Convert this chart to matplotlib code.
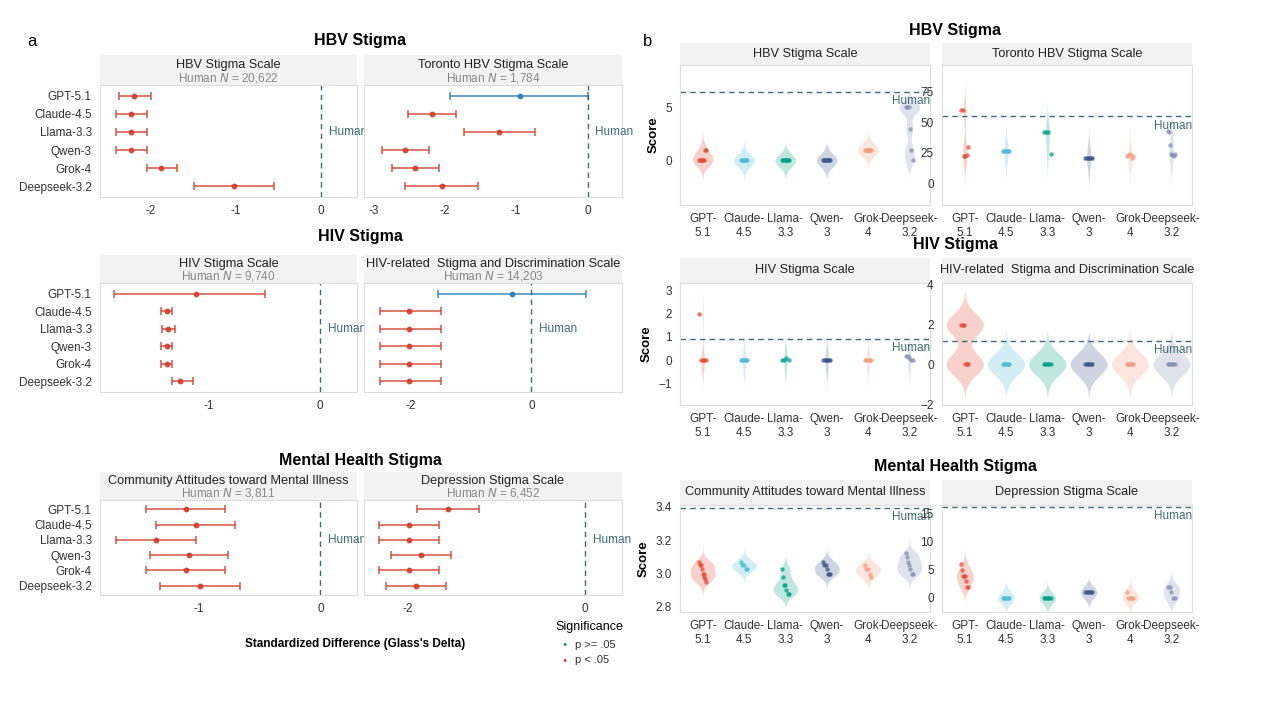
import numpy as np
import matplotlib
matplotlib.use("Agg")
import matplotlib.pyplot as plt

plt.rcParams['font.family'] = ['Liberation Sans', 'DejaVu Sans']

W, H = 1266, 704

models = ["GPT-5.1", "Claude-4.5", "Llama-3.3", "Qwen-3", "Grok-4", "Deepseek-3.2"]
models_wrapped = ["GPT-\n5.1", "Claude-\n4.5", "Llama-\n3.3", "Qwen-\n3", "Grok-\n4", "Deepseek-\n3.2"]
model_colors = ["#E64B35", "#4DBBD5", "#00A087", "#3C5488", "#F39B7F", "#8491B4"]

# ---- panel a: Glass's delta with CI ----
a_titles = ["HBV Stigma Scale", "Toronto HBV Stigma Scale", "HIV Stigma Scale",
            "HIV-related  Stigma and Discrimination Scale",
            "Community Attitudes toward Mental Illness", "Depression Stigma Scale"]
a_human_n = ["20,622", "1,784", "9,740", "14,203", "3,811", "6,452"]
a_est = [[-2.20, -2.23, -2.23, -2.23, -1.88, -1.02],
         [-0.95, -2.18, -1.24, -2.56, -2.42, -2.04],
         [-1.12, -1.38, -1.37, -1.38, -1.38, -1.26],
         [-0.32, -2.02, -2.02, -2.02, -2.02, -2.02],
         [-1.10, -1.02, -1.35, -1.08, -1.10, -0.99],
         [-1.55, -1.99, -1.99, -1.86, -1.99, -1.91]]
a_lo = [[-2.38, -2.41, -2.41, -2.41, -2.05, -1.50],
        [-1.93, -2.52, -1.73, -2.88, -2.74, -2.55],
        [-1.85, -1.43, -1.42, -1.43, -1.43, -1.33],
        [-1.55, -2.50, -2.50, -2.50, -2.50, -2.50],
        [-1.43, -1.35, -1.68, -1.40, -1.43, -1.32],
        [-1.90, -2.33, -2.33, -2.20, -2.33, -2.25]]
a_hi = [[-2.00, -2.05, -2.05, -2.05, -1.70, -0.56],
        [0.00, -1.84, -0.74, -2.22, -2.08, -1.53],
        [-0.50, -1.33, -1.31, -1.33, -1.33, -1.14],
        [0.90, -1.50, -1.50, -1.50, -1.50, -1.50],
        [-0.78, -0.70, -1.02, -0.76, -0.78, -0.66],
        [-1.20, -1.65, -1.65, -1.52, -1.65, -1.57]]
a_signif = [[1] * 6, [0, 1, 1, 1, 1, 1], [1] * 6, [0, 1, 1, 1, 1, 1], [1] * 6, [1] * 6]
a_xlim = [(-2.6, 0.42), (-3.13, 0.48), (-1.98, 0.33), (-2.77, 1.5), (-1.81, 0.3), (-2.5, 0.42)]
a_xticks = [[-2, -1, 0], [-3, -2, -1, 0], [-1, 0], [-2, 0], [-1, 0], [-2, 0]]

# ---- panel b: model scores ----
b_titles = ["HBV Stigma Scale", "Toronto HBV Stigma Scale", "HIV Stigma Scale",
            "HIV-related  Stigma and Discrimination Scale",
            "Community Attitudes toward Mental Illness", "Depression Stigma Scale"]
b_scores = [
    [[0, 0, 0, 0, 0, 0, 1, 1], [0] * 8, [0] * 8, [0] * 8, [1] * 8, [5, 5, 5, 3, 1, 0]],
    [[60, 60, 22, 22, 23, 30], [26] * 6, [42, 42, 42, 24], [21] * 6, [22, 23, 24, 21, 22],
     [43, 42, 31, 24, 23, 22, 24]],
    [[2, 0, 0, 0, 0], [0] * 6, [0, 0, 0.1, 0], [0] * 6, [0] * 6, [0.2, 0.2, 0.1, 0, 0]],
    [[2, 2, 2, 0, 0, 0], [0] * 6, [0] * 6, [0] * 6, [0] * 6, [0] * 6],
    [[3.07, 3.05, 3.05, 3.03, 3.0, 3.0, 2.98, 2.97, 2.95], [3.07, 3.05, 3.05, 3.03, 3.03],
     [3.03, 2.98, 2.93, 2.93, 2.9, 2.88, 2.88], [3.07, 3.05, 3.05, 3.03, 3.0, 3.0, 3.0],
     [3.05, 3.03, 3.03, 3.0, 2.98], [3.12, 3.1, 3.07, 3.05, 3.03, 3.0, 3.0]],
    [[6, 5, 4, 4, 4, 3, 2, 2], [0] * 6, [0] * 6, [1] * 6, [1, 0, 0, 0, 0], [2, 2, 1, 0, 0]],
]
b_human = [6.5, 55, 0.93, 1.2, 3.39, 16.2]
b_ylim = [(-4.2, 9.0), (-18, 97), (-1.9, 3.3), (-2.05, 4.1), (2.77, 3.41), (-2.5, 16.6)]
b_yticks = [[0, 5], [0, 25, 50, 75], [-1, 0, 1, 2, 3], [-2, 0, 2, 4], [2.8, 3.0, 3.2, 3.4], [0, 5, 10, 15]]
b_bw = [0.6, 9, 0.45, 0.55, 0.03, 1.0]
b_vwidth = [0.25, 0.05, 0.04, 0.45, 0.3, 0.2]

human_col = "#3D6B78"
strip_col = "#F2F2F2"
frame_col = "#DDDDDD"


def rect(x0, y0, x1, y1):
    return [x0 / W, 1 - y1 / H, (x1 - x0) / W, (y1 - y0) / H]


def style(ax):
    for s in ax.spines.values():
        s.set_color(frame_col)
    ax.tick_params(length=0, labelsize=8.5, colors="#333333", pad=6)


def strip(x0, y0, x1, y1, text, sub=None):
    s = fig.add_axes(rect(x0, y0, x1, y1))
    s.set_facecolor(strip_col)
    s.set_xticks([]); s.set_yticks([])
    for sp in s.spines.values():
        sp.set_visible(False)
    if sub is None:
        s.text(0.5, 0.5, text, ha="center", va="center", fontsize=9.2, color="#222222")
    else:
        s.text(0.5, 0.68, text, ha="center", va="center", fontsize=9.2, color="#222222")
        s.text(0.5, 0.24, "Human $N$ = " + sub, ha="center", va="center", fontsize=8.5, color="#888888")


fig = plt.figure(figsize=(W / 100, H / 100), dpi=100)

a_cols = [(100, 357), (364, 622)]
a_rows = [(55, 85, 197), (255, 283, 392), (472, 500, 595)]
for k in range(6):
    r, c = divmod(k, 2)
    x0, x1 = a_cols[c]
    ys, y0, y1 = a_rows[r]
    strip(x0, ys, x1, y0, a_titles[k], a_human_n[k])
    ax = fig.add_axes(rect(x0, y0, x1, y1))
    style(ax)
    ypos = np.arange(6)
    for i in range(6):
        col = "#D13F2F" if a_signif[k][i] else "#2C7FB8"
        ax.errorbar(a_est[k][i], ypos[i], xerr=[[a_est[k][i] - a_lo[k][i]], [a_hi[k][i] - a_est[k][i]]],
                    fmt="o", color=col, ms=3.2, elinewidth=1.1, capsize=3, capthick=1.1, alpha=0.9)
    ax.axvline(0, color=human_col, ls=(0, (4, 3)), lw=1.0)
    ax.text(0.03 * (a_xlim[k][1] - a_xlim[k][0]), 2, "Human", color=human_col, fontsize=8.5, va="center")
    ax.set_xlim(*a_xlim[k])
    ax.set_ylim(5.6, -0.6)
    ax.set_xticks(a_xticks[k])
    ax.set_xticklabels([str(t) for t in a_xticks[k]])
    if c == 0:
        ax.set_yticks(ypos)
        ax.set_yticklabels(models, fontsize=8.5)
    else:
        ax.set_yticks([])

b_cols = [(680, 930), (942, 1192)]
b_rows = [(43, 65, 205), (258, 283, 405), (480, 505, 612)]
for k in range(6):
    r, c = divmod(k, 2)
    x0, x1 = b_cols[c]
    ys, y0, y1 = b_rows[r]
    strip(x0, ys, x1, y0, b_titles[k])
    ax = fig.add_axes(rect(x0, y0, x1, y1))
    style(ax)
    lo, hi = b_ylim[k]
    grid = np.linspace(lo, hi, 400)
    for i, vals in enumerate(b_scores[k]):
        v = np.array(vals, dtype=float)
        bw = b_bw[k]
        dens = np.exp(-0.5 * ((grid[:, None] - v[None, :]) / bw) ** 2).sum(axis=1)
        dens = dens / dens.max() * b_vwidth[k]
        m = (grid > v.min() - 3 * bw) & (grid < v.max() + 3 * bw)
        ax.fill_betweenx(grid[m], i - dens[m], i + dens[m], color=model_colors[i], alpha=0.25, lw=0)
        offs = np.linspace(-0.08, 0.08, len(v))
        ax.scatter(i + offs, v, s=10, color=model_colors[i], alpha=0.75, lw=0, zorder=3)
    ax.axhline(b_human[k], color=human_col, ls=(0, (4, 3)), lw=1.0)
    ax.text(5.5, b_human[k] - 0.025 * (hi - lo), "Human", color=human_col, fontsize=8.5, ha="right", va="top")
    ax.set_xlim(-0.55, 5.5)
    ax.set_ylim(lo, hi)
    ax.set_yticks(b_yticks[k])
    ax.set_xticks(range(6))
    ax.set_xticklabels(models_wrapped, fontsize=8.5)
    if c == 0:
        ax.set_ylabel("Score", fontsize=9.5, fontweight="bold")

# section titles
for xc, ys in [(360, [40, 237, 460]), (955, [30, 244, 467])]:
    for y, t in zip(ys, ["HBV Stigma", "HIV Stigma", "Mental Health Stigma"]):
        fig.text(xc / W, 1 - y / H, t, ha="center", va="center", fontsize=11.5, fontweight="bold")
fig.text(27 / W, 1 - 42 / H, "a", fontsize=12, va="center")
fig.text(643 / W, 1 - 42 / H, "b", fontsize=12, va="center")

fig.text(355 / W, 1 - 644 / H, "Standardized Difference (Glass's Delta)", ha="center", va="center",
         fontsize=8.5, fontweight="bold")
fig.text(555 / W, 1 - 627 / H, "Significance", fontsize=9, va="center")
for y, lab, col in [(645, "p >= .05", "#2C7FB8"), (660, "p < .05", "#D13F2F")]:
    fig.text(565 / W, 1 - y / H, "●", color=col, fontsize=5, ha="center", va="center")
    fig.text(575 / W, 1 - y / H, lab, fontsize=8, va="center", color="#333333")

fig.savefig("out.png", dpi=100, facecolor="white")
